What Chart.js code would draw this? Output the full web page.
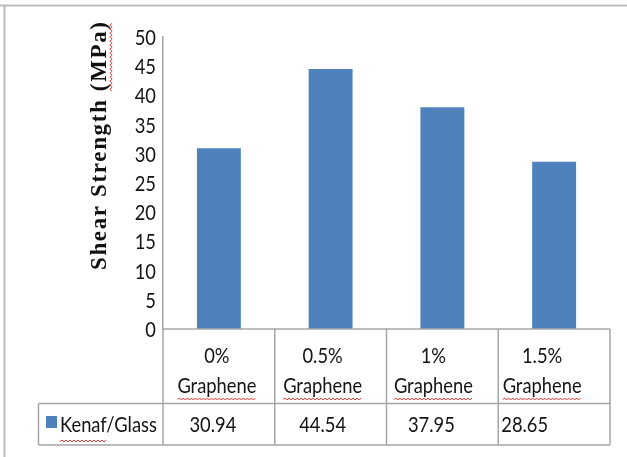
<!DOCTYPE html>
<html>
<head>
<meta charset="utf-8">
<script src="https://cdn.jsdelivr.net/npm/chart.js@4/dist/chart.umd.min.js"></script>
<style>
  html, body { margin: 0; padding: 0; background: #fff; }
  #wrap { width: 627px; height: 457px; position: relative; }
</style>
</head>
<body>
<div id="wrap"><canvas id="chart" width="627" height="457"></canvas></div>
<script>
/************ DATA ************/
const pctLabels = ["0%", "0.5%", "1%", "1.5%"];
const catWord = "Graphene";
const seriesName = "Kenaf/Glass";
const shearValues = [30.94, 44.54, 37.95, 28.65];
const yTitle = "Shear Strength (MPa)";

/************ STYLE ************/
const BAR_COLOR = "#4f81bd";
const GRID_COLOR = "#a6a6a6";
const TEXT_COLOR = "#141414";
const SANS = '22px Lato, "Open Sans", sans-serif';
let SX = 1; // horizontal squeeze so Lato reads like the narrow original

/* red spell-check squiggle */
function squiggle(ctx, x1, x2, y) {
  ctx.save();
  ctx.strokeStyle = "#e8342c";
  ctx.lineWidth = 1;
  ctx.beginPath();
  let up = true;
  ctx.moveTo(x1, y);
  for (let x = x1 + 2; x <= x2; x += 2) {
    ctx.lineTo(x, up ? y - 1.5 : y + 0.5);
    up = !up;
  }
  ctx.stroke();
  ctx.restore();
}

function narrowText(ctx, str, x, y, align) {
  ctx.save();
  ctx.translate(x, y);
  ctx.scale(SX, 1);
  ctx.textAlign = align;
  ctx.fillText(str, 0, 0);
  ctx.restore();
  return ctx.measureText(str).width * SX;
}

/************ TABLE + FRAME PLUGIN ************/
const tablePlugin = {
  id: "dataTable",
  beforeDraw(chart) {
    const ctx = chart.ctx;
    ctx.save();
    ctx.fillStyle = "#fff";
    ctx.fillRect(0, 0, chart.width, chart.height);
    // outer frame (top + left)
    ctx.strokeStyle = "#bdbdbd";
    ctx.lineWidth = 2;
    ctx.beginPath();
    ctx.moveTo(0, 5.5);
    ctx.lineTo(chart.width, 5.5);
    ctx.moveTo(4.5, 5.5);
    ctx.lineTo(4.5, chart.height);
    ctx.stroke();
    ctx.restore();
  },
  afterDraw(chart) {
    const ctx = chart.ctx;
    const x = chart.scales.x;
    const y = chart.scales.y;
    const area = chart.chartArea;
    const n = pctLabels.length;
    const half = (x.getPixelForValue(1) - x.getPixelForValue(0)) / 2;
    const top = area.bottom;
    const mid = 403.5;
    const bot = 445;
    const legLeft = 38.5;

    ctx.save();
    ctx.font = SANS;
    SX = 79 / ctx.measureText(catWord).width;

    ctx.strokeStyle = GRID_COLOR;
    ctx.lineWidth = 1.5;
    ctx.beginPath();
    ctx.moveTo(area.left, top); ctx.lineTo(area.right, top);
    ctx.moveTo(legLeft, mid); ctx.lineTo(area.right, mid);
    ctx.moveTo(legLeft, bot); ctx.lineTo(area.right, bot);
    ctx.moveTo(legLeft, mid); ctx.lineTo(legLeft, bot);
    for (let i = 0; i <= n; i++) {
      const px = i < n ? x.getPixelForValue(i) - half : x.getPixelForValue(n - 1) + half;
      ctx.moveTo(px, top); ctx.lineTo(px, bot);
    }
    ctx.stroke();

    ctx.fillStyle = TEXT_COLOR;
    ctx.textBaseline = "middle";

    // y tick labels
    y.ticks.forEach(t => {
      narrowText(ctx, String(t.value), 156, y.getPixelForValue(t.value) + 1, "right");
    });

    // category labels
    const labelShift = [-2, -8, -9, -12];
    for (let i = 0; i < n; i++) {
      const cx = x.getPixelForValue(i) + labelShift[i];
      narrowText(ctx, pctLabels[i], cx, 356, "center");
      const w = narrowText(ctx, catWord, cx, 386, "center");
      squiggle(ctx, cx - w / 2, cx + w / 2, 399.5);
    }

    // values row
    const valShift = [-6, -8, -11];
    for (let i = 0; i < n; i++) {
      const v = shearValues[i].toFixed(2);
      if (i < n - 1) {
        narrowText(ctx, v, x.getPixelForValue(i) + valShift[i], 425, "center");
      } else {
        narrowText(ctx, v, x.getPixelForValue(i) - half + 3, 425, "left");
      }
    }

    // legend key
    ctx.fillStyle = BAR_COLOR;
    ctx.fillRect(46, 416, 11, 12);
    ctx.fillStyle = TEXT_COLOR;
    narrowText(ctx, seriesName, 60, 425, "left");
    const kw = ctx.measureText(seriesName.split("/")[0]).width * SX;
    squiggle(ctx, 60, 60 + kw, 441.5);

    // y axis title
    ctx.translate(100, 146);
    ctx.rotate(-Math.PI / 2);
    ctx.font = 'bold 23px "Liberation Serif", "DejaVu Serif", serif';
    ctx.letterSpacing = "0px";
    const plainW = ctx.measureText(yTitle).width;
    const sp = Math.max(0, (248 - plainW) / (yTitle.length - 1));
    ctx.letterSpacing = sp + "px";
    ctx.fillStyle = "#111";
    ctx.textAlign = "left";
    ctx.textBaseline = "middle";
    const totalW = plainW + sp * (yTitle.length - 1);
    ctx.fillText(yTitle, -totalW / 2, 0);
    const mpaW = ctx.measureText("(MPa)").width;
    squiggle(ctx, totalW / 2 - mpaW + sp, totalW / 2, 11.5);
    ctx.restore();
  }
};

/************ CHART ************/
const ctx = document.getElementById("chart").getContext("2d");
new Chart(ctx, {
  type: "bar",
  data: {
    labels: pctLabels.map(p => p + " " + catWord),
    datasets: [{
      label: seriesName,
      data: shearValues,
      backgroundColor: BAR_COLOR,
      borderWidth: 0,
      categoryPercentage: 1,
      barPercentage: 0.393
    }]
  },
  options: {
    responsive: false,
    animation: false,
    layout: { padding: { top: 37, right: 17, bottom: 128, left: 0 } },
    plugins: {
      legend: { display: false },
      tooltip: { enabled: false }
    },
    scales: {
      x: {
        display: false,
        offset: true
      },
      y: {
        min: 0,
        max: 50,
        ticks: { stepSize: 5, display: false },
        grid: { display: false, drawTicks: false },
        border: { display: true, color: GRID_COLOR, width: 1.5 },
        afterFit(scale) { scale.width = 163; }
      }
    }
  },
  plugins: [tablePlugin]
});
</script>
</body>
</html>
